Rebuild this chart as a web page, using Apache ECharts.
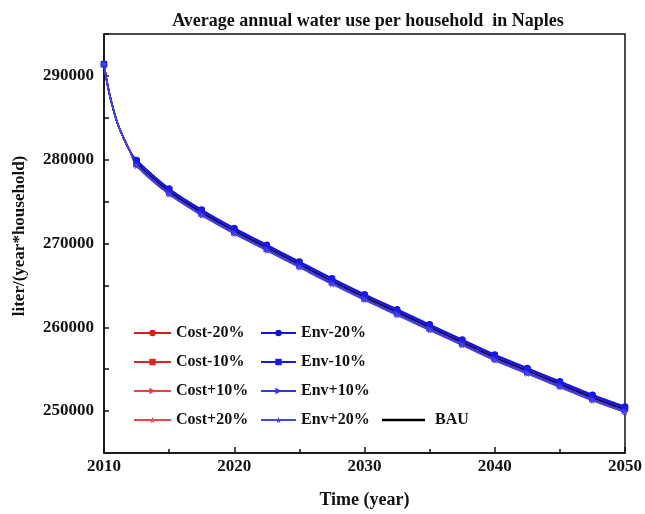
<!DOCTYPE html>
<html>
<head>
<meta charset="utf-8">
<script src="https://cdn.jsdelivr.net/npm/echarts@6/dist/echarts.min.js"></script>
<style>html,body{margin:0;padding:0;background:#fff;}#c{width:645px;height:514px;}</style>
</head>
<body>
<div id="c"></div>
<script>
// ---- data ----
const years = [2010, 2010.25, 2010.5, 2011, 2011.5, 2012, 2012.5, 2015, 2017.5, 2020, 2022.5, 2025, 2027.5, 2030, 2032.5, 2035, 2037.5, 2040, 2042.5, 2045, 2047.5, 2050];
const markerYears = [2010, 2012.5, 2015, 2017.5, 2020, 2022.5, 2025, 2027.5, 2030, 2032.5, 2035, 2037.5, 2040, 2042.5, 2045, 2047.5, 2050];

const bau    = [291400, 289100, 287300, 284500, 282600, 281000, 279600, 276200, 273700, 271500, 269500, 267500, 265500, 263600, 261800, 260000, 258200, 256400, 254800, 253200, 251600, 250200];
const costM20 = [291400, 289100, 287300, 284500, 282600, 281000, 279850, 276450, 273950, 271750, 269750, 267750, 265750, 263850, 262050, 260250, 258450, 256650, 255050, 253450, 251850, 250450];
const costM10 = [291400, 289100, 287300, 284500, 282600, 281000, 279720, 276320, 273820, 271620, 269620, 267620, 265620, 263720, 261920, 260120, 258320, 256520, 254920, 253320, 251720, 250320];
const costP10 = [291400, 289100, 287300, 284500, 282600, 281000, 279450, 276050, 273550, 271350, 269350, 267350, 265350, 263450, 261650, 259850, 258050, 256250, 254650, 253050, 251450, 250050];
const costP20 = [291400, 289100, 287300, 284500, 282600, 281000, 279300, 275900, 273400, 271200, 269200, 267200, 265200, 263300, 261500, 259700, 257900, 256100, 254500, 252900, 251300, 249900];
const envM20  = [291400, 289100, 287300, 284500, 282600, 281000, 279950, 276550, 274050, 271850, 269850, 267850, 265850, 263950, 262150, 260350, 258550, 256750, 255150, 253550, 251950, 250550];
const envM10  = [291400, 289100, 287300, 284500, 282600, 281000, 279780, 276380, 273880, 271680, 269680, 267680, 265680, 263780, 261980, 260180, 258380, 256580, 254980, 253380, 251780, 250380];
const envP10  = [291400, 289100, 287300, 284500, 282600, 281000, 279420, 276020, 273520, 271320, 269320, 267320, 265320, 263420, 261620, 259820, 258020, 256220, 254620, 253020, 251420, 250020];
const envP20  = [291400, 289100, 287300, 284500, 282600, 281000, 279250, 275850, 273350, 271150, 269150, 267150, 265150, 263250, 261450, 259650, 257850, 256050, 254450, 252850, 251250, 249850];

const yTickLabels = [250000, 260000, 270000, 280000, 290000];
const xTickLabels = [2010, 2020, 2030, 2040, 2050];

const costNames = ['Cost-20%', 'Cost-10%', 'Cost+10%', 'Cost+20%'];
const envNames = ['Env-20%', 'Env-10%', 'Env+10%', 'Env+20%'];

// ---- styling ----
const FONT = '"Liberation Serif", "Times New Roman", serif';
const STAR = 'path://M0,-10 L2.35,-3.24 9.51,-3.09 3.8,1.24 5.88,8.09 0,4 -5.88,8.09 -3.8,1.24 -9.51,-3.09 -2.35,-3.24 Z';
const symbols = ['circle', 'rect', 'triangle', STAR];
const rotates = [0, 0, -90, 0];
const costColors = ['#e0191c', '#e32124', '#ee4044', '#e8484c'];
const envColors = ['#1212dc', '#1a1ae8', '#3434f2', '#4646d6'];

function pairs(vals) { return years.map((y, i) => [y, vals[i]]); }
function isMarker(v) { return markerYears.indexOf(v[0]) >= 0; }

function mkSeries(name, vals, color, si, size) {
  return {
    name: name, type: 'line', data: pairs(vals),
    smooth: 0.3, showAllSymbol: true,
    symbol: symbols[si], symbolRotate: rotates[si],
    symbolSize: function (v) { return isMarker(v) ? size : 0; },
    lineStyle: { color: color, width: 1.6 },
    itemStyle: { color: color },
    emphasis: { disabled: true },
    z: 2
  };
}

const costVals = [costM20, costM10, costP10, costP20];
const envVals = [envM20, envM10, envP10, envP20];

const series = [];
costNames.forEach((n, i) => series.push(mkSeries(n, costVals[i], costColors[i], i, 6)));
series.push({
  name: 'BAU', type: 'line', data: pairs(bau), smooth: 0.3, symbol: 'none',
  lineStyle: { color: '#000', width: 1.5 }, itemStyle: { color: '#000' }, emphasis: { disabled: true }, z: 3
});
envNames.forEach((n, i) => { const s = mkSeries(n, envVals[i], envColors[i], i, 6.5); s.z = 4; series.push(s); });

const legendText = { fontFamily: FONT, fontWeight: 'bold', fontSize: 16, color: '#111' };

const option = {
  animation: false,
  backgroundColor: '#fff',
  title: {
    text: 'Average annual water use per household  in Naples',
    left: 363, top: 7, textAlign: 'center',
    textStyle: { fontFamily: FONT, fontWeight: 'bold', fontSize: 18, color: '#111' }
  },
  grid: { left: 104, right: 19, top: 34, bottom: 61, show: true, borderColor: '#111', borderWidth: 1.5, backgroundColor: 'transparent' },
  legend: [
    { data: costNames, orient: 'vertical', left: 133, top: 325, padding: 0, itemWidth: 37, itemHeight: 8, itemGap: 13, textStyle: legendText, selectedMode: false },
    { data: envNames, orient: 'vertical', left: 260, top: 325, padding: 0, itemWidth: 35, itemHeight: 8, itemGap: 13, textStyle: legendText, selectedMode: false },
    { data: [{ name: 'BAU', icon: 'rect', itemStyle: { color: '#000' } }], left: 382, top: 412, padding: 0, itemWidth: 43, itemHeight: 2.5, textStyle: Object.assign({ padding: [0, 0, 0, 5] }, legendText), selectedMode: false }
  ],
  xAxis: {
    type: 'value', min: 2010, max: 2050, interval: 10,
    name: 'Time (year)', nameLocation: 'middle', nameGap: 38,
    nameTextStyle: { fontFamily: FONT, fontWeight: 'bold', fontSize: 18, color: '#111' },
    axisLine: { lineStyle: { color: '#111', width: 1.5 } },
    axisTick: { inside: true, length: 6, lineStyle: { color: '#111', width: 1.5 } },
    minorTick: { show: true, splitNumber: 2, length: 4, lineStyle: { color: '#111', width: 1.5 } },
    splitLine: { show: false },
    axisLabel: {
      margin: 5, fontFamily: FONT, fontWeight: 'bold', fontSize: 17, color: '#111',
      formatter: function (v) { return xTickLabels.indexOf(v) >= 0 ? String(v) : ''; }
    }
  },
  yAxis: {
    type: 'value', min: 245000, max: 295000, interval: 5000,
    axisLine: { show: true, lineStyle: { color: '#111', width: 1.5 } },
    axisTick: { show: true, inside: true, length: 5, lineStyle: { color: '#111', width: 1.5 } },
    splitLine: { show: false },
    axisLabel: {
      margin: 10, fontFamily: FONT, fontWeight: 'bold', fontSize: 17, color: '#111',
      formatter: function (v) { return yTickLabels.indexOf(v) >= 0 ? String(v) : ''; }
    }
  },
  graphic: [{
    type: 'text', x: 20, y: 236, rotation: Math.PI / 2,
    style: { text: 'liter/(year*household)', fontFamily: FONT, fontWeight: 'bold', fontSize: 17, fill: '#111', align: 'center', verticalAlign: 'middle' }
  }],
  series: series
};

const chart = echarts.init(document.getElementById('c'), null, { renderer: 'canvas' });
chart.setOption(option);
</script>
</body>
</html>
